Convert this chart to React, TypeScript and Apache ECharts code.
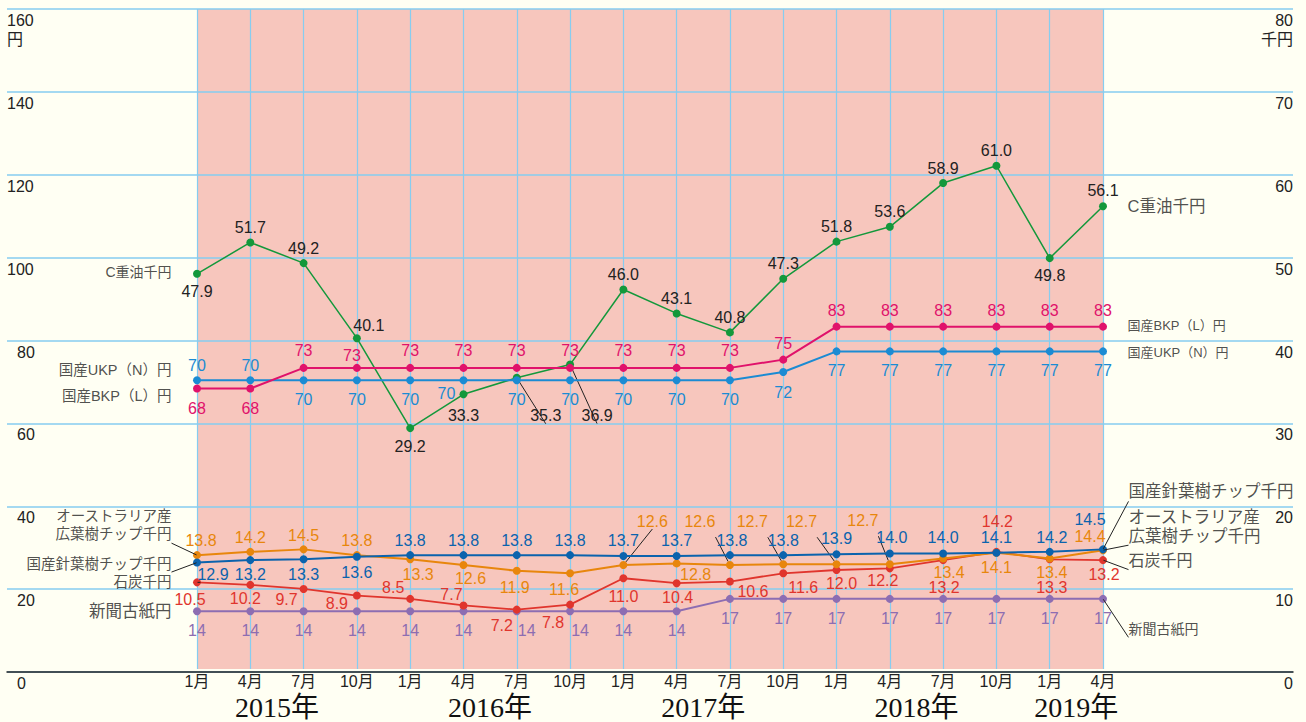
import React, { useEffect, useRef } from 'react';
import * as echarts from 'echarts';

// ---------- data ----------
const months = ['1月', '4月', '7月', '10月', '1月', '4月', '7月', '10月', '1月', '4月', '7月', '10月', '1月', '4月', '7月', '10月', '1月', '4月'];
const yearLabels = ['2015年', '2016年', '2017年', '2018年', '2019年'];
const yearCenters = [1.5, 5.5, 9.5, 13.5, 16.5];

const cHeavyOil = [47.9, 51.7, 49.2, 40.1, 29.2, 33.3, 35.3, 36.9, 46.0, 43.1, 40.8, 47.3, 51.8, 53.6, 58.9, 61.0, 49.8, 56.1];
const bkp = [68, 68, 73, 73, 73, 73, 73, 73, 73, 73, 73, 75, 83, 83, 83, 83, 83, 83];
const ukp = [70, 70, 70, 70, 70, 70, 70, 70, 70, 70, 70, 72, 77, 77, 77, 77, 77, 77];
const ausChip = [13.8, 14.2, 14.5, 13.8, 13.3, 12.6, 11.9, 11.6, 12.6, 12.8, 12.6, 12.7, 12.7, 12.7, 13.4, 14.1, 13.4, 14.4];
const domChip = [12.9, 13.2, 13.3, 13.6, 13.8, 13.8, 13.8, 13.8, 13.7, 13.7, 13.8, 13.8, 13.9, 14.0, 14.0, 14.1, 14.2, 14.5];
const coal = [10.5, 10.2, 9.7, 8.9, 8.5, 7.7, 7.2, 7.8, 11.0, 10.4, 10.6, 11.6, 12.0, 12.2, 13.2, 14.2, 13.3, 13.2];
const newsprint = [14, 14, 14, 14, 14, 14, 14, 14, 14, 14, 17, 17, 17, 17, 17, 17, 17, 17];

const names = {
  oil: 'C重油千円',
  bkp: '国産BKP（L）円',
  ukp: '国産UKP（N）円',
  aus: 'オーストラリア産\n広葉樹チップ千円',
  dom: '国産針葉樹チップ千円',
  coal: '石炭千円',
  news: '新聞古紙円',
};

// ---------- label placement (pixel offsets of label centres from points) ----------
const oilLbl = [[0, 18], [0, -15], [0, -15], [12, -13], [0, 18], [0, 21], [29, 38], [27, 51], [0, -15], [0, -15], [0, -15], [0, -15], [0, -15], [0, -15], [0, -15], [0, -15], [0, 17], [0, -16]];
const oilCall = [6, 7];
const bkpLbl = [[0, 20], [0, 20], [0, -17], [-5, -12], [0, -17], [0, -17], [0, -17], [0, -17], [0, -17], [0, -17], [0, -17], [0, -16], [0, -16], [0, -16], [0, -16], [0, -16], [0, -16], [0, -16]];
const ukpLbl = [[0, -15], [0, -15], [0, 19], [0, 19], [0, 19], [-17, 13], [0, 19], [0, 19], [0, 19], [0, 19], [0, 19], [0, 20], [0, 19], [0, 19], [0, 19], [0, 19], [0, 19], [0, 19]];
const domLbl = [[16, 12], [0, 14], [0, 15], [0, 16], [0, -15], [0, -15], [0, -15], [0, -15], [0, -15], [0, -15], [2, -15], [0, -15], [0, -16], [2, -16], [0, -16], [0, -15], [2, -14], [-13, -30]];
const ausLbl = [[4, -15], [0, -14], [0, -14], [0, -15], [8, 15], [7, 13], [-2, 17], [-6, 16], [29, -44], [19, 11], [-30, -44], [-31, -43], [-35, -43], [-27, -44], [6, 14], [0, 15], [2, 14], [-13, -14]];
const ausCall = [8, 10, 11, 12, 13];
const coalLbl = [[-7, 17], [-5, 14], [-17, 11], [-20, 8], [-17, -11], [-12, -11], [-15, 16], [-17, 18], [0, 18], [1, 14], [23, 10], [20, 14], [5, 14], [-7, 12], [1, 27], [1, -30], [2, 28], [1, 14]];
const newsLbl = [[0, 19], [0, 19], [0, 19], [0, 19], [0, 19], [0, 19], [10, 19], [10, 19], [0, 19], [0, 19], [0, 20], [0, 20], [0, 20], [0, 20], [0, 20], [0, 20], [0, 20], [0, 20]];

// ---------- styles ----------
const FONT = '"Liberation Sans", "Noto Sans CJK JP", sans-serif';
const SERIF = '"Liberation Serif", "DejaVu Serif", "Noto Sans CJK JP", serif';
const C = {
  bg: '#fffff3',
  pink: '#f7c6bd',
  grid: '#86cdf0',
  text: '#222222',
  oil: '#13983b',
  bkp: '#e0126b',
  ukp: '#1b8bd3',
  dom: '#0b63ad',
  aus: '#e8860c',
  coal: '#e0352d',
  news: '#8d6db2',
};

const noBorder = { textBorderWidth: 0, textBorderColor: 'rgba(0,0,0,0)' };

function lineSeries(
  name: string,
  values: number[],
  yAxisIndex: number,
  color: string,
  labelColor: string,
  offsets: number[][],
  callouts: number[],
  decimals: number,
  width: number,
  z: number
) {
  return {
    type: 'line',
    name,
    xAxisIndex: 1,
    yAxisIndex,
    z,
    clip: false,
    symbol: 'circle',
    symbolSize: 8,
    lineStyle: { color, width },
    itemStyle: { color },
    label: {
      show: true,
      position: 'inside',
      color: labelColor,
      fontSize: 16,
      fontFamily: FONT,
      ...noBorder,
      formatter: (p: any) => Number(p.value[1]).toFixed(decimals),
    },
    labelLine: { show: false, length2: 0, lineStyle: { color: '#222', width: 1 } },
    emphasis: { disabled: true },
    data: values.map((v, i) => ({
      value: [i, v],
      label: { offset: offsets[i] },
      labelLine: { show: callouts.includes(i) },
    })),
  };
}

type NameSpec = { dist: number; dy: number; size: number; lh?: number; line?: boolean };

function nameSeries(text: string, values: number[], yAxisIndex: number, left: NameSpec, right: NameSpec) {
  const last = values.length - 1;
  const mk = (i: number, s: NameSpec, side: string) => ({
    value: [i, values[i]],
    label: {
      position: side,
      distance: s.dist,
      offset: [0, s.dy],
      fontSize: s.size,
      lineHeight: s.lh ?? Math.round(s.size * 1.2),
    },
    labelLine: { show: !!s.line },
  });
  return {
    type: 'scatter',
    xAxisIndex: 1,
    yAxisIndex,
    clip: false,
    silent: true,
    z: 10,
    symbol: 'circle',
    symbolSize: 1,
    itemStyle: { color: 'rgba(0,0,0,0)' },
    label: { show: true, formatter: text, color: C.text, fontFamily: FONT, ...noBorder },
    labelLine: { show: false, length2: 0, lineStyle: { color: '#222', width: 1 } },
    emphasis: { disabled: true },
    data: [mk(0, left, 'left'), mk(last, right, 'right')],
  };
}

const yLabelBase = {
  inside: true,
  margin: 0,
  verticalAlign: 'top',
  fontSize: 16,
  lineHeight: 19,
  padding: [2, 0, 0, 0],
  color: C.text,
  fontFamily: FONT,
};

const option: any = {
  animation: false,
  backgroundColor: C.bg,
  grid: [
    { left: 7, right: 13, top: 9, bottom: 50 },
    { left: 197, right: 203, top: 9, bottom: 50, show: true, backgroundColor: C.pink, borderWidth: 0 },
  ],
  xAxis: [
    {
      type: 'value', gridIndex: 0, min: 0, max: 1,
      axisLine: { show: true, lineStyle: { color: '#222', width: 1.5 } },
      axisTick: { show: false }, axisLabel: { show: false }, splitLine: { show: false },
    },
    {
      type: 'value', gridIndex: 1, min: 0, max: 17, interval: 1, position: 'bottom',
      axisLine: { show: false }, axisTick: { show: false },
      splitLine: { show: true, lineStyle: { color: C.grid, width: 1.2 } },
      axisLabel: {
        margin: 5, fontSize: 16, lineHeight: 16, color: C.text, fontFamily: FONT,
        formatter: (v: number) => months[Math.round(v)] ?? '',
      },
    },
    {
      type: 'value', gridIndex: 1, min: 0, max: 17, interval: 0.5, position: 'bottom',
      axisLine: { show: false }, axisTick: { show: false }, splitLine: { show: false },
      axisLabel: {
        margin: 25, fontSize: 28, lineHeight: 28, color: '#111', fontFamily: SERIF,
        formatter: (v: number) => {
          const k = yearCenters.indexOf(v);
          return k >= 0 ? yearLabels[k] : '';
        },
      },
    },
  ],
  yAxis: [
    {
      type: 'value', gridIndex: 0, position: 'left', min: 0, max: 160, interval: 20,
      axisLine: { show: false }, axisTick: { show: false },
      splitLine: { show: true, lineStyle: { color: C.grid, width: 1.5 } },
      axisLabel: {
        ...yLabelBase,
        formatter: (v: number) => (v === 160 ? '160\n円' : v >= 100 ? String(v) : `{p|${v}}`),
        rich: { p: { padding: [0, 0, 0, 10], fontSize: 16, color: C.text, fontFamily: FONT } },
      },
    },
    {
      type: 'value', gridIndex: 0, position: 'right', min: 0, max: 80, interval: 10,
      axisLine: { show: false }, axisTick: { show: false }, splitLine: { show: false },
      axisLabel: {
        ...yLabelBase,
        formatter: (v: number) => (v === 80 ? '80\n千円' : String(v)),
      },
    },
    { type: 'value', gridIndex: 1, position: 'left', min: 0, max: 160, interval: 20, show: false, splitLine: { show: false } },
    { type: 'value', gridIndex: 1, position: 'right', min: 0, max: 80, interval: 10, show: false, splitLine: { show: false } },
  ],
  series: [
    lineSeries(names.news, newsprint, 2, C.news, C.news, newsLbl, [], 0, 2, 2),
    lineSeries(names.oil, cHeavyOil, 3, C.oil, C.text, oilLbl, oilCall, 1, 1.5, 3),
    lineSeries(names.ukp, ukp, 2, C.ukp, C.ukp, ukpLbl, [], 0, 2, 4),
    lineSeries(names.bkp, bkp, 2, C.bkp, C.bkp, bkpLbl, [], 0, 2, 5),
    lineSeries(names.coal, coal, 3, C.coal, C.coal, coalLbl, [], 1, 1.8, 6),
    lineSeries(names.aus, ausChip, 3, C.aus, C.aus, ausLbl, ausCall, 1, 2, 7),
    lineSeries(names.dom, domChip, 3, C.dom, C.dom, domLbl, [], 1, 2, 8),

    nameSeries(names.oil, cHeavyOil, 3, { dist: 25, dy: -2, size: 14 }, { dist: 24, dy: 0, size: 16.5 }),
    nameSeries(names.bkp, bkp, 2, { dist: 25, dy: 7, size: 14.5 }, { dist: 24, dy: -1, size: 13 }),
    nameSeries(names.ukp, ukp, 2, { dist: 25, dy: -10, size: 14.5 }, { dist: 24, dy: 1, size: 13 }),
    nameSeries(names.aus, ausChip, 3, { dist: 25, dy: -30, size: 14.5, lh: 18, line: true }, { dist: 25, dy: -24, size: 16.5, lh: 19, line: true }),
    nameSeries(names.dom, domChip, 3, { dist: 25, dy: 1, size: 14.5, line: true }, { dist: 25, dy: -58, size: 16.5, line: true }),
    nameSeries(names.coal, coal, 3, { dist: 25, dy: 0, size: 14.5, line: true }, { dist: 25, dy: 0, size: 16, line: true }),
    nameSeries(names.news, newsprint, 2, { dist: 25, dy: 0, size: 16.5 }, { dist: 25, dy: 30, size: 14, line: true }),
  ],
};

export default function App() {
  const ref = useRef<HTMLDivElement>(null);
  useEffect(() => {
    document.body.style.margin = '0';
    const chart = echarts.init(ref.current!, null, { renderer: 'svg' });
    chart.setOption(option);
    return () => chart.dispose();
  }, []);
  return <div ref={ref} style={{ width: 1306, height: 722 }} />;
}
